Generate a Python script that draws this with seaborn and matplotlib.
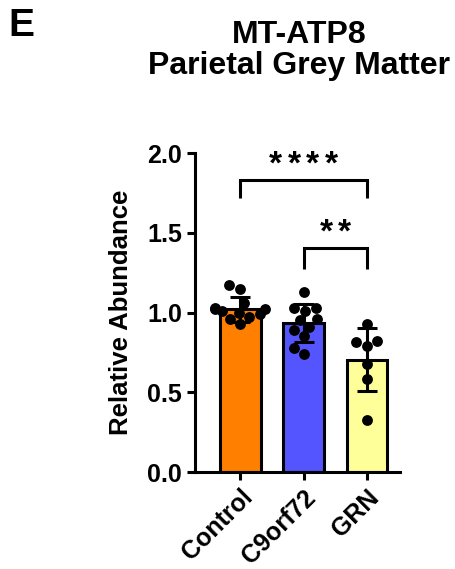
import numpy as np
import pandas as pd
import matplotlib
matplotlib.use("Agg")
import matplotlib.pyplot as plt
import seaborn as sns

# ---- data ----
categories = ["Control", "C9orf72", "GRN"]
means = [1.02, 0.935, 0.705]
sds = [0.08, 0.117, 0.198]
control_pts = [1.17, 1.15, 1.06, 1.03, 1.02, 1.02, 1.01, 1.00, 0.99, 0.97, 0.96, 0.93]
c9orf72_pts = [1.13, 1.03, 1.03, 1.01, 0.96, 0.95, 0.91, 0.89, 0.85, 0.78, 0.74]
grn_pts = [0.93, 0.815, 0.79, 0.82, 0.675, 0.585, 0.325]
bar_colors = ["#FF8000", "#5555FF", "#FFFF99"]
y_ticks = [0.0, 0.5, 1.0, 1.5, 2.0]
comparisons = [("Control", "GRN", "****"), ("C9orf72", "GRN", "**")]

sns.set_style("ticks")
plt.rcParams["font.family"] = ["Liberation Sans", "DejaVu Sans"]
plt.rcParams["font.weight"] = "bold"
plt.rcParams["axes.labelweight"] = "bold"
for k in ["text.color", "axes.labelcolor", "xtick.color", "ytick.color", "axes.edgecolor"]:
    plt.rcParams[k] = "black"

bar_df = pd.DataFrame({"group": categories, "mean": means})
pts_df = pd.DataFrame({
    "group": ["Control"] * len(control_pts) + ["C9orf72"] * len(c9orf72_pts) + ["GRN"] * len(grn_pts),
    "value": control_pts + c9orf72_pts + grn_pts,
})

fig = plt.figure(figsize=(4.56, 5.69), dpi=100)
ax = fig.add_axes([195 / 456, 1 - 472 / 569, (400 - 195) / 456, (472 - 153) / 569])

LW = 2.2
sns.barplot(data=bar_df, x="group", y="mean", hue="group", order=categories,
            hue_order=categories, palette=bar_colors, saturation=1, legend=False,
            errorbar=None, width=0.645, edgecolor="black", linewidth=LW, ax=ax, zorder=2)

xpos = np.arange(len(categories))
ax.errorbar(xpos, means, yerr=sds, fmt="none", ecolor="black", elinewidth=LW,
            capsize=7.5, capthick=LW, zorder=3)

sns.swarmplot(data=pts_df, x="group", y="value", order=categories, color="black",
              size=7.8, ax=ax, zorder=4)

# significance brackets
levels = [(1.83, 1.717, 1.925), (1.404, 1.275, 1.50)]
star_step = 0.29
for (a, b, lab), (yh, yl, yt) in zip(comparisons, levels):
    xa, xb = categories.index(a), categories.index(b)
    ax.plot([xa, xa, xb, xb], [yl, yh, yh, yl], color="black", lw=LW,
            clip_on=False, solid_capstyle="butt", solid_joinstyle="miter")
    xc = (xa + xb) / 2
    n = len(lab)
    for i, ch in enumerate(lab):
        ax.text(xc + (i - (n - 1) / 2) * star_step, yt, ch, ha="center", va="center",
                fontsize=24, fontweight="bold", clip_on=False)

ax.set_xlim(-0.71, 2.52)
ax.set_ylim(0, 2)
ax.set_yticks(y_ticks)
ax.set_yticklabels([f"{v:.1f}" for v in y_ticks])
ax.set_xlabel("")
ax.set_ylabel("Relative Abundance", fontsize=18.5, fontweight="bold")
ax.yaxis.set_label_coords(-0.30, 0.5)

for s in ["top", "right"]:
    ax.spines[s].set_visible(False)
for s in ["left", "bottom"]:
    ax.spines[s].set_linewidth(LW)
ax.tick_params(axis="both", length=6, width=LW, labelsize=18, color="black")
plt.setp(ax.get_xticklabels(), rotation=45, ha="right", rotation_mode="anchor",
         fontweight="bold")
plt.setp(ax.get_yticklabels(), fontweight="bold")

fig.text(299 / 456, 1 - 20 / 569, "MT-ATP8\nParietal Grey Matter", ha="center",
         va="top", fontsize=23, fontweight="bold", linespacing=1.05)
fig.text(8 / 456, 1 - 8 / 569, "E", ha="left", va="top", fontsize=28, fontweight="bold")

fig.savefig("out.png", dpi=100)
